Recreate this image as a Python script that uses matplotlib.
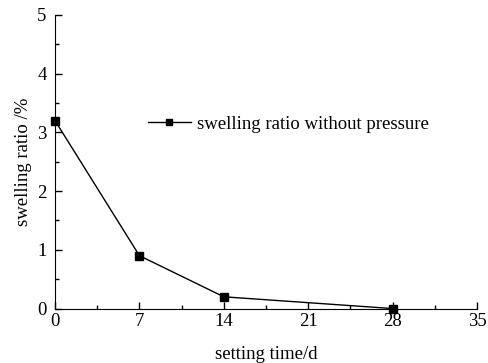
import matplotlib
matplotlib.use("Agg")
import matplotlib.pyplot as plt
from matplotlib.ticker import MultipleLocator

# data
setting_time = [0, 7, 14, 28]
swelling_ratio = [3.2, 0.9, 0.2, 0.0]

plt.rcParams['font.family'] = 'Liberation Serif'
plt.rcParams['font.size'] = 13.5

fig = plt.figure(figsize=(4.89, 3.63), dpi=100)
ax = fig.add_axes([0.1125, 0.150, 0.863, 0.809])

ax.plot(setting_time, swelling_ratio, color='black', lw=1, marker='s', ms=5.5,
        label='swelling ratio without pressure', clip_on=False, zorder=5)

ax.set_xlim(0, 35)
ax.set_ylim(0, 5)
ax.set_xticks([0, 7, 14, 21, 28, 35])
ax.set_yticks([0, 1, 2, 3, 4, 5])
ax.xaxis.set_minor_locator(MultipleLocator(3.5))
ax.yaxis.set_minor_locator(MultipleLocator(0.5))
ax.tick_params(which='both', direction='in', width=1)
ax.tick_params(which='major', length=5)
ax.tick_params(which='minor', length=3)
ax.tick_params(axis='x', pad=3)
ax.tick_params(axis='y', pad=6)
ax.spines['top'].set_visible(False)
ax.spines['right'].set_visible(False)

ax.set_xlabel('setting time/d', labelpad=12)
ax.set_ylabel('swelling ratio /%', labelpad=4)

ax.legend(loc='center left', bbox_to_anchor=(0.22, 0.628), frameon=False,
          borderpad=0, borderaxespad=0, markerscale=0.85,
          handlelength=2.3, handletextpad=0.3)

fig.savefig('out.png', dpi=100)
